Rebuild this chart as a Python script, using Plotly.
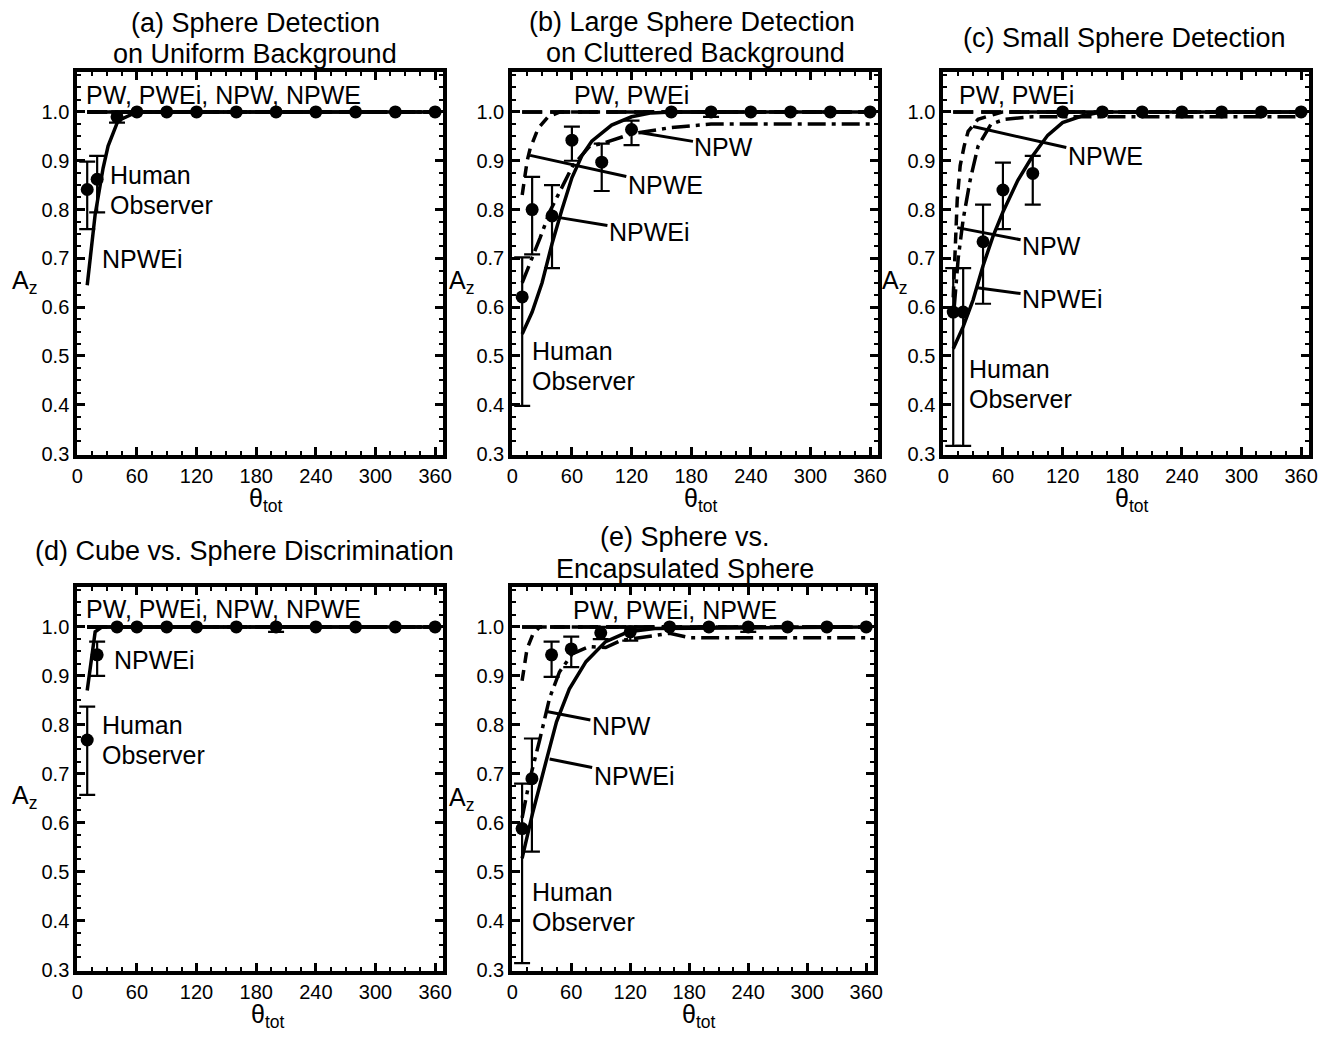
import plotly.graph_objects as go

# The page body keeps its default 8px margin, so the figure is made 16px
# smaller than the window and every reference pixel position is shifted by 8.
OFF = 8
W, H = 1333 - 2 * OFF, 1040 - 2 * OFF
FONT = "Liberation Sans, Arial, Helvetica, sans-serif"

# ---------------- shared axis values ----------------
x_ticks = [0, 60, 120, 180, 240, 300, 360]
y_ticks = [0.3, 0.4, 0.5, 0.6, 0.7, 0.8, 0.9, 1.0]
y_tick_text = ["0.3", "0.4", "0.5", "0.6", "0.7", "0.8", "0.9", "1.0"]

theta_human = [10, 20, 40, 60, 90, 120, 160, 200, 240, 280, 320, 360]
flat_x = [10, 360]
flat_y = [1.0, 1.0]

# ---------------- (a) Sphere detection, uniform background ----------------
a_human_y = [0.841, 0.862, 0.99, 1, 1, 1, 1, 1, 1, 1, 1, 1]
a_human_hi = [0.898, 0.91, 1.0, 1, 1, 1, 1, 1, 1, 1, 1, 1]
a_human_lo = [0.76, 0.794, 0.978, 1, 1, 1, 1, 1, 1, 1, 1, 1]
a_npwei_x = [10, 18, 26, 31, 41, 60, 360]
a_npwei_y = [0.645, 0.79, 0.885, 0.93, 0.982, 1.0, 1.0]

# ---------------- (b) Large sphere, cluttered background ----------------
b_human_y = [0.621, 0.80, 0.787, 0.942, 0.897, 0.964, 1, 1, 1, 1, 1, 1]
b_human_hi = [0.702, 0.867, 0.85, 0.97, 0.935, 0.982, 1, 1, 1, 1, 1, 1]
b_human_lo = [0.398, 0.708, 0.68, 0.90, 0.838, 0.932, 1, 0.99, 1, 1, 1, 1]
b_npw_x = [10, 18, 28, 38, 51, 61, 78, 90, 120, 160, 200, 360]
b_npw_y = [0.65, 0.69, 0.742, 0.797, 0.85, 0.89, 0.93, 0.935, 0.955, 0.968, 0.975, 0.975]
b_npwe_x = [10, 15, 18, 26, 36, 48, 360]
b_npwe_y = [0.83, 0.90, 0.925, 0.966, 0.99, 1.0, 1.0]
b_npwei_x = [10, 20, 30, 40, 50, 60, 70, 80, 100, 120, 140, 160, 360]
b_npwei_y = [0.545, 0.59, 0.65, 0.73, 0.80, 0.865, 0.91, 0.94, 0.973, 0.99, 0.998, 1.0, 1.0]

# ---------------- (c) Small sphere detection ----------------
c_human_y = [0.59, 0.59, 0.734, 0.84, 0.874, 1, 1, 1, 1, 1, 1, 1]
c_human_hi = [0.68, 0.68, 0.81, 0.896, 0.91, 1, 1, 1, 1, 1, 1, 1]
c_human_lo = [0.316, 0.316, 0.607, 0.76, 0.81, 1, 1, 1, 1, 1, 1, 1]
c_npw_x = [11, 15, 20, 27, 35, 43, 48, 62, 90, 360]
c_npw_y = [0.60, 0.70, 0.78, 0.86, 0.93, 0.96, 0.975, 0.985, 0.99, 0.99]
c_npwe_x = [10, 12, 14, 17, 21, 25, 35, 60, 360]
c_npwe_y = [0.62, 0.72, 0.82, 0.89, 0.93, 0.96, 0.985, 1.0, 1.0]
c_npwei_x = [10, 20, 30, 40, 50, 60, 75, 90, 105, 120, 140, 160, 360]
c_npwei_y = [0.515, 0.56, 0.615, 0.685, 0.745, 0.795, 0.86, 0.91, 0.952, 0.978, 0.992, 1.0, 1.0]

# ---------------- (d) Cube vs. sphere ----------------
d_human_y = [0.769, 0.943, 1, 1, 1, 1, 1, 1, 1, 1, 1, 1]
d_human_hi = [0.837, 0.97, 1, 1, 1, 1, 1, 1, 1, 1, 1, 1]
d_human_lo = [0.657, 0.90, 1, 1, 1, 1, 1, 0.99, 1, 1, 1, 1]
d_npwei_x = [10, 18, 25, 360]
d_npwei_y = [0.87, 0.99, 1.0, 1.0]

# ---------------- (e) Sphere vs. encapsulated sphere ----------------
e_human_y = [0.588, 0.69, 0.943, 0.955, 0.988, 0.99, 1, 1, 1, 1, 1, 1]
e_human_hi = [0.68, 0.772, 0.97, 0.98, 1.0, 1.0, 1, 1, 1, 1, 1, 1]
e_human_lo = [0.313, 0.541, 0.898, 0.918, 0.975, 0.972, 1, 1, 0.99, 1, 1, 1]
e_npw_x = [10, 18, 28, 38, 48, 61, 78, 95, 110, 130, 160, 180, 360]
e_npw_y = [0.61, 0.69, 0.77, 0.855, 0.908, 0.945, 0.96, 0.958, 0.972, 0.978, 0.987, 0.978, 0.978]
e_npwe_x = [10, 15, 21, 28, 360]
e_npwe_y = [0.89, 0.955, 0.985, 1.0, 1.0]
e_npwei_x = [10, 21, 35, 45, 58, 75, 95, 118, 145, 360]
e_npwei_y = [0.527, 0.622, 0.73, 0.806, 0.873, 0.929, 0.97, 0.99, 0.997, 1.0]

# ---------------- styles ----------------
STYLE = {
    "PW": dict(color="black", width=3.5, dash="20px,8px"),
    "PWEi": dict(color="black", width=3.5, dash="20px,8px"),
    "NPW": dict(color="black", width=3.5, dash="18px,6px,4px,6px"),
    "NPWE": dict(color="black", width=3.5, dash="11px,7px"),
    "NPWEi": dict(color="black", width=3.5),
}

panels = [
    dict(key="a", curves={"PW": (flat_x, flat_y), "PWEi": (flat_x, flat_y),
                          "NPW": (flat_x, flat_y), "NPWE": (flat_x, flat_y),
                          "NPWEi": (a_npwei_x, a_npwei_y)},
         human=(a_human_y, a_human_hi, a_human_lo)),
    dict(key="b", curves={"PW": (flat_x, flat_y), "PWEi": (flat_x, flat_y),
                          "NPW": (b_npw_x, b_npw_y), "NPWE": (b_npwe_x, b_npwe_y),
                          "NPWEi": (b_npwei_x, b_npwei_y)},
         human=(b_human_y, b_human_hi, b_human_lo)),
    dict(key="c", curves={"PW": (flat_x, flat_y), "PWEi": (flat_x, flat_y),
                          "NPW": (c_npw_x, c_npw_y), "NPWE": (c_npwe_x, c_npwe_y),
                          "NPWEi": (c_npwei_x, c_npwei_y)},
         human=(c_human_y, c_human_hi, c_human_lo)),
    dict(key="d", curves={"PW": (flat_x, flat_y), "PWEi": (flat_x, flat_y),
                          "NPW": (flat_x, flat_y), "NPWE": (flat_x, flat_y),
                          "NPWEi": (d_npwei_x, d_npwei_y)},
         human=(d_human_y, d_human_hi, d_human_lo)),
    dict(key="e", curves={"PW": (flat_x, flat_y), "PWEi": (flat_x, flat_y),
                          "NPW": (e_npw_x, e_npw_y), "NPWE": (e_npwe_x, e_npwe_y),
                          "NPWEi": (e_npwei_x, e_npwei_y)},
         human=(e_human_y, e_human_hi, e_human_lo)),
]

# window-pixel boxes of each plotting frame (left, right, top, bottom)
boxes = {
    "a": (72, 442, 73, 459),
    "b": (512, 882, 73, 459),
    "c": (948, 1318, 73, 459),
    "d": (72, 442, 593, 980),
    "e": (512, 878, 593, 980),
}


def fx(px):
    return (px - OFF) / W


def fy(py):
    return 1 - (py - OFF) / H


fig = go.Figure()
layout = dict(width=W, height=H, margin=dict(l=0, r=0, t=0, b=0, pad=0),
              autosize=False,
              paper_bgcolor="white", plot_bgcolor="white", showlegend=False,
              font=dict(family=FONT, color="black", size=25))

for i, p in enumerate(panels):
    n = "" if i == 0 else str(i + 1)
    xr, yr = "x" + n, "y" + n
    l, r, t, b = boxes[p["key"]]
    layout["xaxis" + n] = dict(
        domain=[fx(l), fx(r)], anchor=yr, range=[0, 368],
        tickvals=x_ticks, ticks="inside", ticklen=8, tickwidth=3, tickcolor="black",
        showline=True, linewidth=4, linecolor="black", mirror="allticks",
        showgrid=False, zeroline=False,
        tickfont=dict(size=20, family=FONT, color="black"),
        minor=dict(dtick=15, tick0=0, ticks="inside", ticklen=4, tickwidth=2,
                   tickcolor="black", showgrid=False))
    layout["yaxis" + n] = dict(
        domain=[fy(b), fy(t)], anchor=xr, range=[0.298, 1.081],
        tickvals=y_ticks, ticktext=y_tick_text, ticks="inside", ticklen=8,
        tickwidth=3, tickcolor="black",
        showline=True, linewidth=4, linecolor="black", mirror="allticks",
        showgrid=False, zeroline=False,
        tickfont=dict(size=20, family=FONT, color="black"),
        minor=dict(dtick=0.025, tick0=0.3, ticks="inside", ticklen=4, tickwidth=2,
                   tickcolor="black", showgrid=False))
    for name, (cx, cy) in p["curves"].items():
        fig.add_trace(go.Scatter(x=cx, y=cy, mode="lines", line=STYLE[name],
                                 xaxis=xr, yaxis=yr, name=name))
    hy, hhi, hlo = p["human"]
    fig.add_trace(go.Scatter(
        x=theta_human, y=hy, mode="markers", xaxis=xr, yaxis=yr,
        name="Human Observer",
        marker=dict(size=13, color="black"),
        error_y=dict(type="data", symmetric=False,
                     array=[h - v for h, v in zip(hhi, hy)],
                     arrayminus=[v - lo for v, lo in zip(hy, hlo)],
                     width=8, thickness=2.2, color="black")))

fig.update_layout(**layout)

ann = []


def ptext(text, px, py, size=25):
    ann.append(dict(text=text, x=fx(px), y=fy(py), xref="paper", yref="paper",
                    showarrow=False, xanchor="center", yanchor="middle",
                    font=dict(size=size, family=FONT, color="black")))


# panel titles (one annotation per line)
TS = 27
ptext("(a) Sphere Detection", 252, 23, TS)
ptext("on Uniform Background", 252, 54, TS)
ptext("(b) Large Sphere Detection", 694, 22, TS)
ptext("on Cluttered Background", 697, 53, TS)
ptext("(c) Small Sphere Detection", 1131, 38, TS)
ptext("(d) Cube vs. Sphere Discrimination", 241, 556, TS)
ptext("(e) Sphere vs.", 687, 542, TS)
ptext("Encapsulated Sphere", 687, 575, TS)

# axis titles
for px, py in [(19, 285), (461, 285), (899, 285), (19, 805), (461, 807)]:
    ptext("A<sub>z</sub>", px, py)
for px, py in [(263, 505), (703, 505), (1139, 505), (265, 1026), (701, 1026)]:
    ptext("θ<sub>tot</sub>", px, py)


def dtext(n, text, x, y):
    ann.append(dict(text=text, x=x, y=y, xref="x" + n, yref="y" + n,
                    showarrow=False, xanchor="left", yanchor="middle",
                    font=dict(size=25, family=FONT, color="black")))


def leader(n, text, tipx, tipy, tx, ty):
    ann.append(dict(text=text, x=tipx, y=tipy, ax=tx, ay=ty,
                    xref="x" + n, yref="y" + n, axref="x" + n, ayref="y" + n,
                    showarrow=True, arrowhead=0, arrowwidth=3, arrowcolor="black",
                    standoff=0, startstandoff=0, xanchor="center", yanchor="middle",
                    font=dict(size=25, family=FONT, color="black")))


# (a)
dtext("", "PW, PWEi, NPW, NPWE", 7, 1.034)
dtext("", "Human", 31, 0.87)
dtext("", "Observer", 31, 0.809)
dtext("", "NPWEi", 23, 0.698)
# (b)
dtext("2", "PW, PWEi", 60, 1.034)
dtext("2", "Human", 18, 0.51)
dtext("2", "Observer", 18, 0.449)
leader("2", "NPW", 128, 0.958, 213, 0.929)
leader("2", "NPWE", 18, 0.911, 154, 0.85)
leader("2", "NPWEi", 43, 0.785, 138, 0.753)
# (c)
dtext("3", "PW, PWEi", 14, 1.034)
dtext("3", "Human", 24, 0.473)
dtext("3", "Observer", 24, 0.412)
leader("3", "NPWE", 30, 0.97, 163, 0.909)
leader("3", "NPW", 14, 0.763, 109, 0.726)
leader("3", "NPWEi", 34, 0.64, 120, 0.616)
# (d)
dtext("4", "PW, PWEi, NPW, NPWE", 7, 1.037)
dtext("4", "NPWEi", 35, 0.933)
dtext("4", "Human", 23, 0.80)
dtext("4", "Observer", 23, 0.739)
# (e)
dtext("5", "PW, PWEi, NPWE", 60, 1.034)
dtext("5", "Human", 18, 0.458)
dtext("5", "Observer", 18, 0.397)
leader("5", "NPW", 35, 0.827, 111, 0.798)
leader("5", "NPWEi", 38, 0.73, 124, 0.696)

fig.update_layout(annotations=ann)
fig.write_html("out.html")
